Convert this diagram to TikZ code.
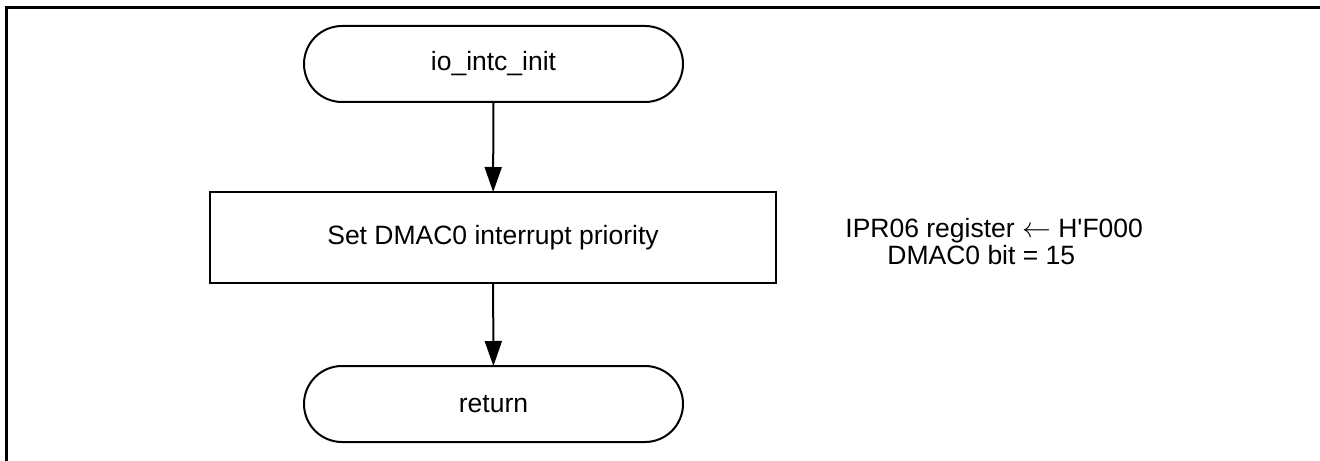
\documentclass[tikz,border=0pt]{standalone}
\usepackage{fontspec}
\setmainfont{Liberation Sans}[Ligatures=TeXOff]
\usetikzlibrary{arrows.meta}
\begin{document}
\begin{tikzpicture}[x=0.5pt,y=-0.5pt,
  every node/.style={font=\fontsize{13.25pt}{15pt}\selectfont},
  terminal/.style={draw,line width=1pt,rectangle,rounded corners=19pt,
    minimum width=189.5pt,minimum height=38pt,inner sep=0pt,outer sep=0pt},
  process/.style={draw,line width=1pt,rectangle,
    minimum width=283pt,minimum height=45.5pt,inner sep=0pt,outer sep=0pt},
  flow/.style={line width=1pt,-{Triangle[length=12.5pt,width=8.5pt]}},
  note/.style={anchor=base west,inner sep=0pt}]
\useasboundingbox (0,0) rectangle (1320,460);
% page frame
\draw[line width=1.5pt] (6.5,470) -- (6.5,7.5) -- (1330,7.5);
% flowchart
\node[terminal] (start) at (493.5,64) {io\_intc\_init};
\node[process] (setprio) at (493,237.5) {Set DMAC0 interrupt priority};
\node[terminal] (ret) at (493.5,404) {return};
\draw[flow] (start) -- (setprio);
\draw[flow] (setprio) -- (ret);
% register note
\node[note] (reg) at (845,237) {IPR06 register \(\leftarrow\) H'F000};
\node[note] (bit) at (887,264) {DMAC0 bit = 15};
\end{tikzpicture}
\end{document}
